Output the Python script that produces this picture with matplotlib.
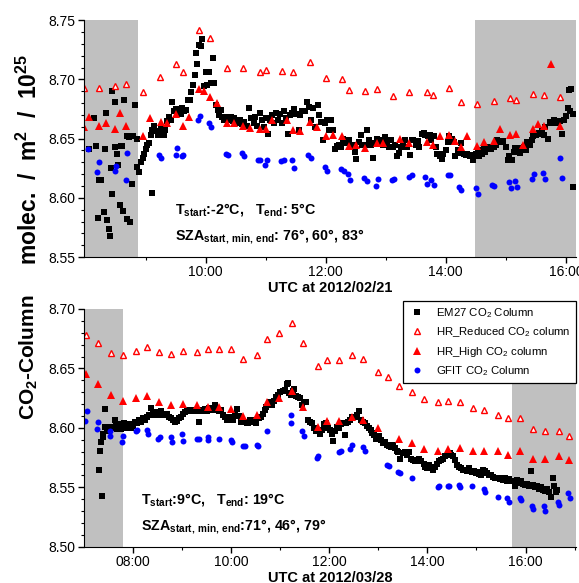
import matplotlib.pyplot as plt
plt.rcParams.update({'font.family': ['Liberation Sans', 'DejaVu Sans']})
plt.rcParams['mathtext.default'] = 'regular'

# ---- 2012/02/21 (oberes Bild) ----
em27_t1 = [8.06, 8.14, 8.175, 8.21, 8.23, 8.26, 8.31, 8.325, 8.35, 8.36, 8.386, 8.41, 8.43, 8.45, 8.45,
           8.49, 8.50, 8.53, 8.55, 8.575, 8.586, 8.61, 8.63, 8.64, 8.686, 8.70, 8.72, 8.75, 8.78, 8.79,
           8.82, 8.85, 8.864, 8.89, 8.92, 8.95, 8.975, 9.00, 9.03, 9.06, 9.09, 9.10, 9.11, 9.14, 9.16,
           9.20, 9.23, 9.26, 9.31, 9.33, 9.35, 9.39, 9.43, 9.44, 9.475, 9.50, 9.53, 9.56, 9.59, 9.61,
           9.64, 9.67, 9.70, 9.74, 9.76, 9.79, 9.825, 9.84, 9.86, 9.89, 9.92, 9.94, 9.975, 10.00, 10.03,
           10.06, 10.09, 10.12, 10.14, 10.175, 10.20, 10.225, 10.25, 10.28, 10.31, 10.34, 10.36, 10.39,
           10.42, 10.45, 10.475, 10.50, 10.54, 10.575, 10.61, 10.64, 10.69, 10.72, 10.76, 10.80, 10.825,
           10.86, 10.90, 10.94, 10.97, 11.00, 11.04, 11.07, 11.10, 11.135, 11.17, 11.20, 11.235, 11.27,
           11.30, 11.335, 11.37, 11.40, 11.435, 11.48, 11.51, 11.55, 11.58, 11.61, 11.65, 11.69, 11.725,
           11.76, 11.79, 11.825, 11.87, 11.89, 11.925, 11.96, 11.99, 12.025, 12.058, 12.09, 12.125,
           12.158, 12.19, 12.225, 12.258, 12.29, 12.325, 12.358, 12.39, 12.425, 12.458, 12.49, 12.51,
           12.55, 12.58, 12.61, 12.647, 12.68, 12.714, 12.747, 12.78, 12.814, 12.85, 12.88, 12.914,
           12.947, 12.98, 13.014, 13.047, 13.08, 13.114, 13.147, 13.18, 13.214, 13.247, 13.28, 13.314,
           13.36, 13.40, 13.43, 13.46, 13.50, 13.53, 13.56, 13.60, 13.63, 13.66, 13.70, 13.73, 13.76,
           13.80, 13.83, 13.86, 13.90, 13.93, 13.96, 14.00, 14.03, 14.06, 14.10, 14.13, 14.16, 14.20,
           14.23, 14.26, 14.30, 14.33, 14.36, 14.40, 14.43, 14.46, 14.50, 14.53, 14.56, 14.60, 14.63,
           14.66, 14.70, 14.73, 14.76, 14.80, 14.83, 14.86, 14.90, 14.93, 14.96, 15.00, 15.03, 15.06,
           15.10, 15.13, 15.16, 15.20, 15.23, 15.26, 15.30, 15.33, 15.36, 15.40, 15.43, 15.46, 15.50,
           15.53, 15.56, 15.60, 15.63, 15.66, 15.70, 15.73, 15.76, 15.80, 15.83, 15.86, 15.90, 15.94,
           15.975, 16.01, 16.03, 16.06, 16.075, 16.085, 16.11, 16.12]
em27_v1 = [8.641, 8.667, 8.644, 8.583, 8.615, 8.615, 8.588, 8.641, 8.672, 8.581, 8.574, 8.568, 8.625,
           8.690, 8.603, 8.643, 8.681, 8.637, 8.628, 8.594, 8.644, 8.644, 8.589, 8.683, 8.652, 8.582,
           8.651, 8.580, 8.612, 8.652, 8.678, 8.626, 8.650, 8.622, 8.630, 8.634, 8.637, 8.641, 8.645,
           8.646, 8.653, 8.604, 8.657, 8.661, 8.656, 8.653, 8.656, 8.659, 8.653, 8.657, 8.665, 8.668,
           8.666, 8.681, 8.673, 8.675, 8.672, 8.675, 8.671, 8.676, 8.673, 8.674, 8.683, 8.683, 8.689,
           8.695, 8.704, 8.722, 8.713, 8.729, 8.728, 8.734, 8.694, 8.706, 8.695, 8.706, 8.697, 8.718,
           8.697, 8.678, 8.674, 8.670, 8.674, 8.668, 8.666, 8.668, 8.667, 8.666, 8.668, 8.665, 8.667,
           8.664, 8.663, 8.666, 8.662, 8.664, 8.661, 8.676, 8.667, 8.663, 8.668, 8.661, 8.672, 8.666,
           8.660, 8.667, 8.654, 8.666, 8.670, 8.663, 8.672, 8.666, 8.671, 8.663, 8.673, 8.667, 8.654,
           8.670, 8.672, 8.675, 8.671, 8.657, 8.670, 8.673, 8.673, 8.681, 8.677, 8.666, 8.676, 8.660,
           8.678, 8.670, 8.664, 8.649, 8.663, 8.666, 8.657, 8.666, 8.657, 8.641, 8.644, 8.645, 8.643,
           8.650, 8.648, 8.646, 8.649, 8.644, 8.645, 8.639, 8.633, 8.647, 8.653, 8.645, 8.645, 8.657,
           8.649, 8.645, 8.634, 8.646, 8.650, 8.647, 8.649, 8.645, 8.651, 8.646, 8.643, 8.649, 8.643,
           8.645, 8.635, 8.638, 8.643, 8.646, 8.649, 8.643, 8.636, 8.649, 8.649, 8.645, 8.648, 8.643,
           8.654, 8.655, 8.653, 8.652, 8.653, 8.649, 8.652, 8.643, 8.637, 8.635, 8.633, 8.637, 8.640,
           8.647, 8.652, 8.650, 8.647, 8.635, 8.640, 8.638, 8.646, 8.637, 8.636, 8.637, 8.635, 8.636,
           8.632, 8.637, 8.640, 8.635, 8.637, 8.642, 8.639, 8.643, 8.642, 8.641, 8.643, 8.645, 8.649,
           8.648, 8.647, 8.648, 8.643, 8.632, 8.635, 8.632, 8.639, 8.642, 8.640, 8.638, 8.642, 8.643,
           8.640, 8.647, 8.645, 8.649, 8.652, 8.653, 8.654, 8.655, 8.657, 8.653, 8.660, 8.650, 8.664,
           8.663, 8.666, 8.664, 8.663, 8.665, 8.654, 8.666, 8.669, 8.676, 8.691, 8.673, 8.692, 8.671,
           8.609]

red_t1 = [7.98, 8.22, 8.50, 8.68, 8.96, 9.24, 9.51, 9.62, 9.89, 10.08, 10.35, 10.63, 10.90, 11.00,
          11.27, 11.46, 11.74, 12.01, 12.28, 12.39, 12.66, 12.85, 13.12, 13.39, 13.68, 13.78, 14.05,
          14.25, 14.52, 14.80, 15.07, 15.17, 15.45, 15.64, 15.91]
red_v1 = [8.693, 8.693, 8.694, 8.696, 8.689, 8.702, 8.713, 8.706, 8.742, 8.735, 8.710, 8.710, 8.706,
          8.708, 8.707, 8.706, 8.715, 8.701, 8.700, 8.691, 8.690, 8.692, 8.686, 8.689, 8.689, 8.687,
          8.693, 8.681, 8.679, 8.682, 8.684, 8.683, 8.688, 8.687, 8.685]

high_t1 = [7.98, 8.06, 8.22, 8.34, 8.50, 8.575, 8.68, 8.964, 9.08, 9.25, 9.35, 9.51, 9.62, 9.73, 9.89,
           9.975, 10.075, 10.19, 10.35, 10.475, 10.63, 10.74, 10.90, 11.00, 11.11, 11.36, 11.46, 11.57,
           11.74, 11.85, 12.01, 12.12, 12.28, 12.39, 12.50, 12.66, 12.85, 12.95, 13.23, 13.39, 13.68,
           13.78, 13.90, 14.06, 14.15, 14.25, 14.36, 14.52, 14.64, 14.80, 14.91, 15.07, 15.17, 15.29,
           15.45, 15.54, 15.64, 15.75, 15.91]
high_v1 = [8.660, 8.668, 8.661, 8.663, 8.658, 8.672, 8.661, 8.652, 8.667, 8.664, 8.663, 8.671, 8.661,
           8.668, 8.692, 8.690, 8.685, 8.680, 8.663, 8.663, 8.661, 8.659, 8.658, 8.658, 8.666, 8.666,
           8.657, 8.656, 8.664, 8.660, 8.652, 8.653, 8.652, 8.644, 8.645, 8.642, 8.646, 8.646, 8.650,
           8.646, 8.647, 8.645, 8.652, 8.653, 8.648, 8.643, 8.652, 8.644, 8.647, 8.648, 8.658, 8.653,
           8.654, 8.645, 8.658, 8.662, 8.661, 8.713, 8.661]

gfit_t1 = [8.05, 8.20, 8.23, 8.49, 8.51, 8.67, 8.70, 9.225, 9.26, 9.50, 9.53, 9.61, 9.63, 9.88, 9.91,
           10.05, 10.09, 10.34, 10.375, 10.61, 10.64, 10.87, 10.91, 10.99, 11.02, 11.25, 11.30, 11.44,
           11.47, 11.71, 11.75, 11.99, 12.02, 12.26, 12.30, 12.37, 12.41, 12.64, 12.68, 12.83, 12.87,
           13.10, 13.14, 13.38, 13.43, 13.66, 13.69, 13.76, 13.80, 14.04, 14.075, 14.225, 14.26, 14.50,
           14.54, 14.775, 14.81, 15.05, 15.08, 15.15, 15.19, 15.43, 15.465, 15.62, 15.65, 15.90, 15.93]
gfit_v1 = [8.641, 8.622, 8.630, 8.623, 8.627, 8.615, 8.638, 8.636, 8.634, 8.636, 8.642, 8.635, 8.636,
           8.666, 8.669, 8.663, 8.660, 8.637, 8.636, 8.638, 8.635, 8.632, 8.632, 8.628, 8.632, 8.631,
           8.632, 8.632, 8.625, 8.636, 8.634, 8.626, 8.623, 8.624, 8.623, 8.620, 8.615, 8.617, 8.614,
           8.610, 8.616, 8.615, 8.616, 8.618, 8.619, 8.618, 8.612, 8.615, 8.611, 8.619, 8.619, 8.609,
           8.607, 8.608, 8.603, 8.611, 8.610, 8.613, 8.608, 8.614, 8.609, 8.616, 8.620, 8.621, 8.616,
           8.634, 8.617]

# ---- 2012/03/28 (unteres Bild) ----
em27_t2 = [7.313, 7.33, 7.35, 7.374, 7.38, 7.39, 7.42, 7.435, 7.46, 7.50, 7.54, 7.585, 7.63, 7.65, 7.68,
           7.72, 7.75, 7.79, 7.82, 7.86, 7.88, 7.925, 7.966, 8.007, 8.05, 8.09, 8.13, 8.17, 8.21, 8.25,
           8.29, 8.33, 8.36, 8.40, 8.44, 8.48, 8.52, 8.56, 8.605, 8.646, 8.69, 8.73, 8.77, 8.81, 8.85,
           8.89, 8.93, 8.97, 9.01, 9.05, 9.095, 9.136, 9.18, 9.22, 9.26, 9.30, 9.34, 9.38, 9.42, 9.46,
           9.50, 9.54, 9.585, 9.626, 9.67, 9.71, 9.75, 9.79, 9.83, 9.87, 9.91, 9.95, 9.99, 10.03, 10.075,
           10.116, 10.156, 10.20, 10.24, 10.28, 10.33, 10.35, 10.39, 10.43, 10.47, 10.51, 10.56, 10.60,
           10.64, 10.68, 10.72, 10.76, 10.80, 10.84, 10.88, 10.92, 10.96, 11.00, 11.05, 11.09, 11.13,
           11.155, 11.18, 11.22, 11.26, 11.29, 11.32, 11.36, 11.40, 11.44, 11.48, 11.52, 11.56, 11.60,
           11.645, 11.685, 11.73, 11.77, 11.81, 11.85, 11.89, 11.93, 11.97, 12.01, 12.05, 12.07, 12.11,
           12.15, 12.19, 12.23, 12.27, 12.31, 12.35, 12.39, 12.43, 12.47, 12.515, 12.555, 12.60, 12.64,
           12.68, 12.72, 12.76, 12.80, 12.84, 12.88, 12.92, 12.96, 13.005, 13.045, 13.09, 13.13, 13.17,
           13.21, 13.25, 13.29, 13.33, 13.37, 13.41, 13.45, 13.495, 13.535, 13.58, 13.62, 13.67, 13.71,
           13.75, 13.79, 13.835, 13.875, 13.92, 13.96, 14.00, 14.04, 14.08, 14.12, 14.16, 14.20, 14.24,
           14.28, 14.325, 14.365, 14.41, 14.45, 14.49, 14.53, 14.57, 14.61, 14.65, 14.69, 14.73, 14.77,
           14.815, 14.855, 14.90, 14.94, 14.98, 15.02, 15.06, 15.10, 15.14, 15.18, 15.22, 15.26, 15.30,
           15.345, 15.385, 15.43, 15.47, 15.51, 15.55, 15.59, 15.63, 15.67, 15.71, 15.75, 15.78, 15.82,
           15.86, 15.90, 15.94, 15.985, 16.025, 16.07, 16.11, 16.15, 16.19, 16.23, 16.27, 16.31, 16.35,
           16.39, 16.43, 16.475, 16.515, 16.56, 16.58, 16.62, 16.64]
em27_v2 = [8.565, 8.581, 8.588, 8.543, 8.592, 8.595, 8.616, 8.601, 8.597, 8.599, 8.601, 8.600, 8.607,
           8.602, 8.599, 8.603, 8.599, 8.600, 8.604, 8.602, 8.600, 8.603, 8.600, 8.602, 8.605, 8.604,
           8.607, 8.605, 8.608, 8.607, 8.609, 8.611, 8.617, 8.612, 8.611, 8.613, 8.611, 8.614, 8.612,
           8.611, 8.612, 8.609, 8.608, 8.607, 8.605, 8.606, 8.608, 8.609, 8.612, 8.613, 8.614, 8.615,
           8.614, 8.614, 8.615, 8.614, 8.605, 8.615, 8.614, 8.616, 8.614, 8.617, 8.615, 8.616, 8.619,
           8.615, 8.614, 8.615, 8.611, 8.609, 8.607, 8.608, 8.609, 8.607, 8.611, 8.616, 8.610, 8.605,
           8.606, 8.605, 8.604, 8.604, 8.607, 8.605, 8.607, 8.604, 8.608, 8.609, 8.612, 8.615, 8.618,
           8.619, 8.622, 8.619, 8.623, 8.626, 8.628, 8.630, 8.631, 8.632, 8.637, 8.638, 8.629, 8.628,
           8.631, 8.633, 8.627, 8.626, 8.625, 8.619, 8.622, 8.622, 8.607, 8.605, 8.604, 8.600, 8.597,
           8.597, 8.595, 8.598, 8.603, 8.604, 8.600, 8.598, 8.595, 8.589, 8.597, 8.601, 8.600, 8.603,
           8.604, 8.594, 8.604, 8.605, 8.607, 8.609, 8.609, 8.611, 8.614, 8.607, 8.605, 8.604, 8.602,
           8.600, 8.598, 8.596, 8.594, 8.591, 8.593, 8.590, 8.587, 8.588, 8.586, 8.585, 8.584, 8.586,
           8.583, 8.581, 8.580, 8.574, 8.579, 8.580, 8.577, 8.580, 8.574, 8.573, 8.572, 8.572, 8.574,
           8.572, 8.570, 8.567, 8.566, 8.569, 8.567, 8.565, 8.567, 8.570, 8.572, 8.573, 8.574, 8.576,
           8.577, 8.579, 8.577, 8.576, 8.573, 8.569, 8.567, 8.566, 8.565, 8.565, 8.564, 8.566, 8.563,
           8.564, 8.562, 8.563, 8.561, 8.560, 8.565, 8.564, 8.562, 8.560, 8.560, 8.559, 8.558, 8.558,
           8.557, 8.558, 8.556, 8.558, 8.555, 8.557, 8.555, 8.555, 8.551, 8.556, 8.554, 8.555, 8.553,
           8.552, 8.553, 8.551, 8.564, 8.552, 8.550, 8.551, 8.549, 8.550, 8.548, 8.547, 8.549, 8.546,
           8.542, 8.558, 8.551, 8.546, 8.548]

red_t2 = [7.05, 7.29, 7.56, 7.79, 8.07, 8.28, 8.52, 8.78, 9.01, 9.30, 9.52, 9.75, 9.99, 10.25, 10.53,
          10.73, 10.97, 11.23, 11.47, 11.76, 11.96, 12.20, 12.46, 12.69, 12.99, 13.195, 13.43, 13.69,
          13.92, 14.22, 14.42, 14.66, 14.92, 15.15, 15.44, 15.64, 15.89, 16.15, 16.39, 16.68, 16.88]
red_v2 = [8.678, 8.671, 8.663, 8.661, 8.665, 8.668, 8.664, 8.662, 8.665, 8.664, 8.666, 8.666, 8.666,
          8.658, 8.661, 8.675, 8.680, 8.688, 8.671, 8.652, 8.657, 8.657, 8.661, 8.658, 8.647, 8.643,
          8.635, 8.630, 8.624, 8.622, 8.623, 8.622, 8.617, 8.615, 8.611, 8.608, 8.608, 8.599, 8.597,
          8.597, 8.593]

high_t2 = [7.05, 7.29, 7.56, 7.79, 8.07, 8.28, 8.52, 8.78, 9.01, 9.30, 9.52, 9.75, 9.99, 10.25, 10.53,
           10.73, 10.97, 11.23, 11.47, 11.76, 11.96, 12.20, 12.46, 12.69, 12.99, 13.43, 13.69, 13.92,
           14.22, 14.42, 14.66, 14.92, 15.15, 15.44, 15.64, 15.89, 16.15, 16.39, 16.68, 16.88]
high_v2 = [8.645, 8.637, 8.628, 8.623, 8.625, 8.627, 8.622, 8.619, 8.620, 8.619, 8.618, 8.618, 8.616,
           8.610, 8.611, 8.622, 8.625, 8.631, 8.618, 8.601, 8.606, 8.606, 8.609, 8.607, 8.600, 8.591,
           8.587, 8.582, 8.581, 8.582, 8.583, 8.581, 8.581, 8.581, 8.577, 8.581, 8.574, 8.574, 8.576,
           8.573]

gfit_t2 = [7.03, 7.07, 7.27, 7.29, 7.53, 7.54, 7.78, 7.80, 8.07, 8.09, 8.28, 8.31, 8.51, 8.55, 8.78,
           8.80, 9.00, 9.01, 9.30, 9.34, 9.52, 9.53, 9.75, 9.99, 10.02, 10.25, 10.29, 10.52, 10.54,
           10.73, 11.22, 11.22, 11.45, 11.48, 11.75, 11.78, 12.19, 12.23, 12.43, 12.47, 12.68, 12.72,
           13.18, 13.21, 13.41, 13.45, 13.69, 14.22, 14.24, 14.41, 14.43, 14.64, 14.66, 14.91, 15.15,
           15.17, 15.43, 15.63, 15.66, 15.88, 15.90, 16.13, 16.16, 16.37, 16.39, 16.67, 16.69, 16.86,
           16.90]
gfit_v2 = [8.606, 8.614, 8.599, 8.605, 8.593, 8.597, 8.588, 8.593, 8.597, 8.598, 8.598, 8.595, 8.591,
           8.592, 8.592, 8.588, 8.595, 8.589, 8.591, 8.591, 8.592, 8.590, 8.591, 8.590, 8.588, 8.585,
           8.585, 8.586, 8.585, 8.597, 8.611, 8.604, 8.597, 8.593, 8.575, 8.576, 8.580, 8.581, 8.582,
           8.586, 8.584, 8.581, 8.569, 8.568, 8.563, 8.562, 8.558, 8.550, 8.551, 8.551, 8.551, 8.552,
           8.550, 8.551, 8.549, 8.546, 8.542, 8.541, 8.538, 8.541, 8.539, 8.534, 8.532, 8.534, 8.530,
           8.538, 8.535, 8.545, 8.541]

labels = ['EM27 CO$_2$ Column', 'HR_Reduced CO$_2$ column', 'HR_High CO$_2$ column', 'GFIT CO$_2$ Column']

fig = plt.figure(figsize=(5.79, 5.83), dpi=100)
ax1 = fig.add_axes([0.145, 0.559, 0.850, 0.4065])
ax2 = fig.add_axes([0.145, 0.062, 0.850, 0.408])

panels = [
    (ax1, em27_t1, em27_v1, red_t1, red_v1, high_t1, high_v1, gfit_t1, gfit_v1,
     (7.975, 16.17), (8.55, 8.75), [(7.975, 8.87), (14.49, 16.17)], [10, 12, 14, 16], [9, 11, 13, 15],
     'UTC at 2012/02/21', 'T$_{start}$:-2°C,   T$_{end}$: 5°C', 'SZA$_{start,\\,min,\\,end}$: 76°, 60°, 83°',
     0.185),
    (ax2, em27_t2, em27_v2, red_t2, red_v2, high_t2, high_v2, gfit_t2, gfit_v2,
     (7.0, 17.03), (8.50, 8.70), [(7.0, 7.80), (15.73, 17.03)], [8, 10, 12, 14, 16], [9, 11, 13, 15, 17],
     'UTC at 2012/03/28', 'T$_{start}$:9°C,   T$_{end}$: 19°C', 'SZA$_{start,\\,min,\\,end}$:71°, 46°, 79°',
     0.115),
]

for (ax, et, ev, rt, rv, ht, hv, gt, gv, xl, yl, spans, majors, minors, xlab, txt1, txt2, tx) in panels:
    for a, b in spans:
        ax.axvspan(a, b, color='#c0c0c0', lw=0, zorder=0)
    ax.plot(et, ev, 's', color='black', ms=4.2, mew=0, label=labels[0])
    ax.plot(rt, rv, '^', mfc='white', mec='red', ms=5, mew=1.0, label=labels[1])
    ax.plot(ht, hv, '^', color='red', ms=5.2, mew=0, label=labels[2])
    ax.plot(gt, gv, 'o', color='blue', ms=4.3, mew=0, label=labels[3])
    ax.set_xlim(*xl)
    ax.set_ylim(*yl)
    ax.set_xticks(majors)
    ax.set_xticklabels(['%02d:00' % h for h in majors])
    ax.set_xticks(minors, minor=True)
    ax.set_yticks([round(yl[0] + i * 0.05, 2) for i in range(5)])
    ax.set_yticks([round(yl[0] + i * 0.01, 2) for i in range(21)], minor=True)
    ax.yaxis.set_major_formatter(plt.FormatStrFormatter('%.2f'))
    ax.spines['top'].set_visible(False)
    ax.spines['right'].set_visible(False)
    ax.tick_params(which='major', direction='out', length=4, width=1, labelsize=10, pad=2)
    ax.tick_params(which='minor', direction='out', length=2.5, width=0.8)
    ax.set_xlabel(xlab, fontsize=10.5, fontweight='bold', labelpad=1)
    ax.text(tx, 0.20, txt1, transform=ax.transAxes, fontsize=10.3, fontweight='bold', va='center')
    ax.text(tx, 0.085, txt2, transform=ax.transAxes, fontsize=10.3, fontweight='bold', va='center')

leg = ax2.legend(loc='upper right', bbox_to_anchor=(0.9948, 0.4842), bbox_transform=fig.transFigure,
                 borderaxespad=0, fontsize=8.2, frameon=True, fancybox=False, edgecolor='black',
                 framealpha=1, handlelength=1.6, handletextpad=0.9, borderpad=0.45, labelspacing=0.5)
leg.get_frame().set_linewidth(0.9)

fig.text(0.05, 0.388, 'CO$_2$-Column', rotation=90,
         ha='center', va='center', fontsize=15, fontweight='bold')
fig.text(0.05, 0.727, 'molec.  /  m$^2$  /  10$^{25}$', rotation=90,
         ha='center', va='center', fontsize=16.5, fontweight='bold')

fig.savefig('out.png', dpi=100)
